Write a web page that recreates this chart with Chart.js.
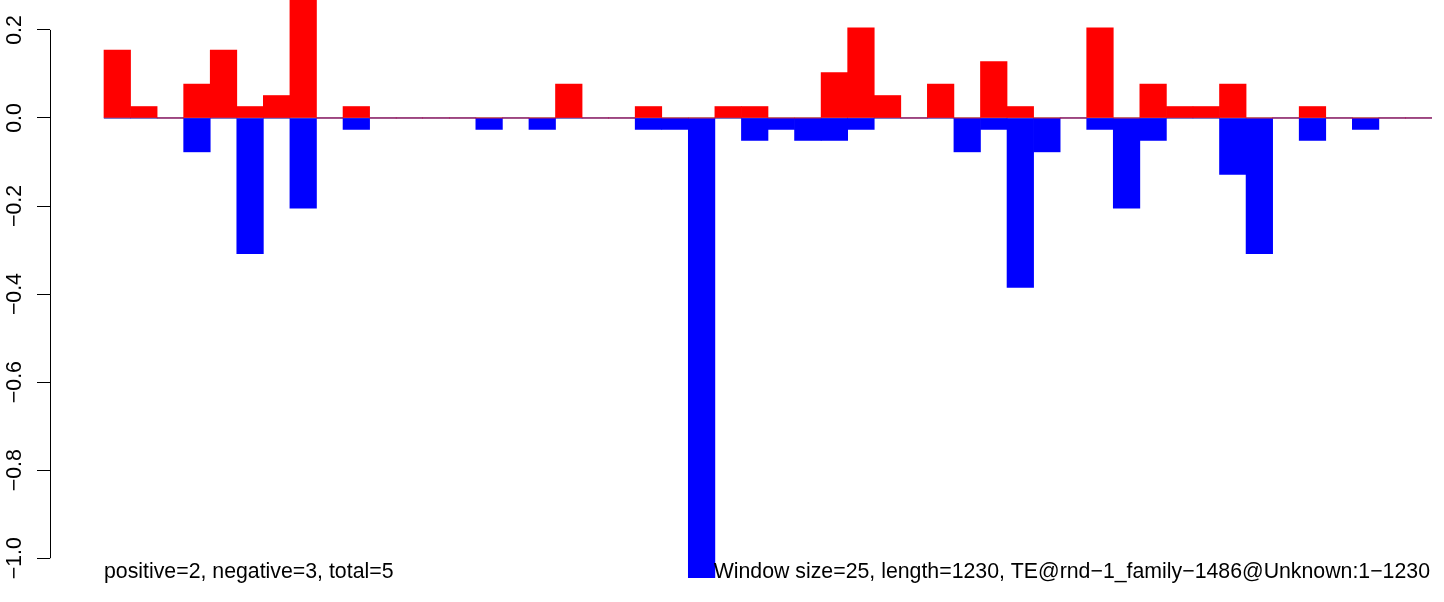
<!DOCTYPE html>
<html>
<head>
<meta charset="utf-8">
<title>Window bars</title>
<script src="https://cdn.jsdelivr.net/npm/chart.js@4.4.0/dist/chart.umd.min.js"></script>
<style>
    body { margin: 0; background: #ffffff; }
    canvas { display: block; }
</style>
</head>
<body>
<canvas id="barChart" width="1444" height="602"></canvas>
<script>
// Window index (50 windows of 25 over length 1230)
const windows = Array.from({ length: 50 }, (_, i) => i);

// Positive (red) and negative (blue) values per window
const positiveValues = [
    0.154, 0.026, 0, 0.077, 0.154, 0.026, 0.051, 0.28, 0, 0.026,
    0, 0, 0, 0, 0, 0, 0, 0.077, 0, 0,
    0.026, 0, 0, 0.026, 0.026, 0, 0, 0.103, 0.205, 0.051,
    0, 0.077, 0, 0.128, 0.026, 0, 0, 0.205, 0, 0.077,
    0.026, 0.026, 0.077, 0, 0, 0.026, 0, 0, 0, 0
];
const negativeValues = [
    0, 0, 0, -0.077, 0, -0.308, 0, -0.205, 0, -0.026,
    0, 0, 0, 0, -0.026, 0, -0.026, 0, 0, 0,
    -0.026, -0.026, -1.05, 0, -0.051, -0.026, -0.051, -0.051, -0.026, 0,
    0, 0, -0.077, -0.026, -0.385, -0.077, 0, -0.026, -0.205, -0.051,
    0, 0, -0.128, -0.308, 0, -0.051, 0, -0.026, 0, 0
];

// Y axis ticks and labels
const yTicks = [0.2, 0.0, -0.2, -0.4, -0.6, -0.8, -1.0];
const yTickLabels = ['0.2', '0.0', '\u22120.2', '\u22120.4', '\u22120.6', '\u22120.8', '\u22121.0'];

// Bottom notes
const leftNote = 'positive=2, negative=3, total=5';
const rightNote = 'Window size=25, length=1230, TE@rnd\u22121_family\u22121486@Unknown:1\u22121230';

const FONT = '21.3px "Liberation Sans", Arial, sans-serif';

// R style axis: line only between first and last tick, rotated labels, notes
const rAxisPlugin = {
    id: 'rAxis',
    afterDraw(chart) {
        const ctx = chart.ctx;
        const y = chart.scales.y;
        const x = chart.scales.x;
        const axisX = chart.chartArea.left;

        ctx.save();
        ctx.strokeStyle = '#000000';
        ctx.lineWidth = 1;
        ctx.beginPath();
        ctx.moveTo(axisX + 0.5, y.getPixelForValue(yTicks[0]));
        ctx.lineTo(axisX + 0.5, y.getPixelForValue(yTicks[yTicks.length - 1]));
        ctx.stroke();

        ctx.fillStyle = '#000000';
        ctx.font = FONT;
        ctx.textAlign = 'center';
        ctx.textBaseline = 'alphabetic';
        yTicks.forEach((v, i) => {
            ctx.save();
            ctx.translate(21, y.getPixelForValue(v));
            ctx.rotate(-Math.PI / 2);
            ctx.fillText(yTickLabels[i], 0, 0);
            ctx.restore();
        });

        const base = chart.chartArea.bottom;
        ctx.textAlign = 'left';
        ctx.fillText(leftNote, x.getPixelForValue(-0.5), base);
        ctx.textAlign = 'right';
        ctx.fillText(rightNote, x.getPixelForValue(49.5) - 2, base);
        ctx.restore();
    }
};

const ctx = document.getElementById('barChart').getContext('2d');

new Chart(ctx, {
    type: 'bar',
    data: {
        datasets: [
            {
                label: 'positive',
                data: windows.map(i => ({ x: i, y: positiveValues[i] })),
                backgroundColor: '#ff0000',
                borderWidth: 0,
                grouped: false,
                barPercentage: 1,
                categoryPercentage: 1,
                order: 1
            },
            {
                label: 'negative',
                data: windows.map(i => ({ x: i, y: negativeValues[i] })),
                backgroundColor: '#0000ff',
                borderWidth: 0,
                grouped: false,
                barPercentage: 1,
                categoryPercentage: 1,
                order: 2
            },
            {
                type: 'line',
                label: 'zero',
                data: [{ x: -0.5, y: 0 }, { x: 49.5, y: 0 }],
                borderColor: '#555555',
                borderWidth: 1,
                pointRadius: 0,
                order: 3
            }
        ]
    },
    options: {
        responsive: false,
        devicePixelRatio: 1,
        animation: false,
        layout: {
            padding: { left: 0, right: 12, top: 0, bottom: 24 }
        },
        plugins: {
            legend: { display: false },
            tooltip: { enabled: false }
        },
        scales: {
            x: {
                type: 'linear',
                offset: false,
                min: -2.533,
                max: 49.5,
                display: false
            },
            y: {
                min: -1.045,
                max: 0.268,
                afterFit: s => { s.width = 50; },
                afterBuildTicks: s => { s.ticks = yTicks.map(v => ({ value: v })); },
                border: { display: false },
                grid: {
                    drawOnChartArea: false,
                    drawTicks: true,
                    tickLength: 13,
                    color: '#000000',
                    lineWidth: 1
                },
                ticks: { display: false }
            }
        }
    },
    plugins: [rAxisPlugin]
});
</script>
</body>
</html>
